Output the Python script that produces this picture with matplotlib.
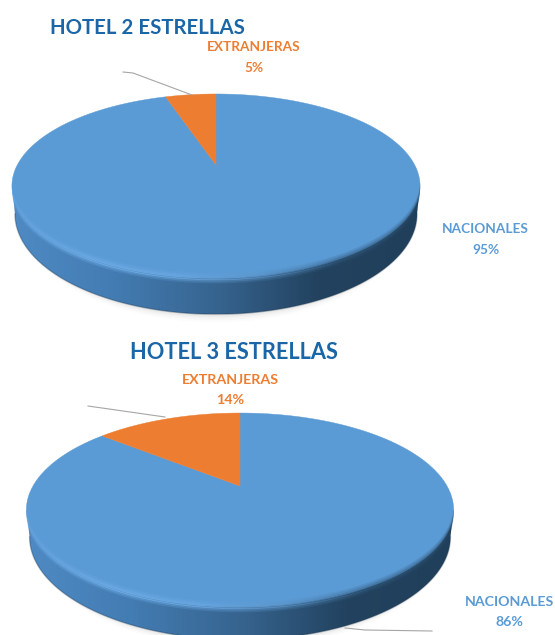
import numpy as np
import matplotlib
matplotlib.use("Agg")
import matplotlib.pyplot as plt
from matplotlib.colors import LinearSegmentedColormap
from matplotlib.patches import Polygon

plt.rcParams['font.family'] = ['Lato', 'DejaVu Sans']

categories = ["NACIONALES", "EXTRANJERAS"]
titles = ["HOTEL 2 ESTRELLAS", "HOTEL 3 ESTRELLAS"]
nacionales = [95, 86]
extranjeras = [5, 14]

BLUE = "#5b9bd5"
ORANGE = "#ed7d31"
TITLE_BLUE = "#1a66a6"

side_cmap = LinearSegmentedColormap.from_list(
    "side", ["#4f8ac4", "#437cb2", "#37648f", "#22425f", "#203f5a"])
rim_cmap = LinearSegmentedColormap.from_list(
    "rim", ["#6aa8e4", "#74b2ec", "#70aee8", "#5b94c8", "#2f5577", "#284b6a"])


def disc_xy(angle, cx, apex_y, a, b, k):
    # angle is measured clockwise from 12 o'clock; k tilts the disc away from the viewer
    u = np.sin(angle)
    v = np.cos(angle)
    w = 1 + k * v
    return cx + a * u / w, apex_y - b * v / w


def gradient_fill(ax, x0, x1, y0, y1, cmap, clip_xy, alpha=1.0, z=2):
    grad = np.linspace(0, 1, 256).reshape(1, -1)
    im = ax.imshow(grad, cmap=cmap, extent=(x0, x1, y1, y0), aspect="auto",
                   alpha=alpha, zorder=z)
    clip = Polygon(clip_xy, closed=True, transform=ax.transData, fc="none", ec="none")
    ax.add_patch(clip)
    im.set_clip_path(clip)


def draw_pie(ax, share_nac, share_ext, cx, apex_y, a, b, k, drop, base_scale):
    t = np.linspace(0, 2 * np.pi, 721)
    x, y = disc_xy(t, cx, apex_y, a, b, k)
    left, right = x.min(), x.max()
    mid_y = (y.min() + y.max()) / 2
    half_w = (right - left) / 2
    half_h = (y.max() - y.min()) / 2

    # base of the puck is a slightly narrower, deeper ellipse
    p = np.linspace(np.pi, 0, 361)
    base_x = cx + 0.985 * half_w * np.cos(p)
    base_y = mid_y + drop + base_scale * half_h * np.sin(p)

    # soft shadow under the base, it only shows below the wall
    for grow, alpha in [(8, 0.02), (6, 0.03), (4, 0.04), (2.5, 0.05), (1, 0.07)]:
        ex = cx + (0.985 * half_w + grow * 0.1) * np.cos(p)
        ey = mid_y + drop - 6 + (base_scale * half_h + grow + 6) * np.sin(p)
        ax.add_patch(Polygon(np.column_stack([ex, ey]), closed=True, fc="#6e6a66",
                             ec="none", alpha=alpha, zorder=1))

    # wall: from the disc's left extreme down round the base to its right extreme
    i_l, i_r = x.argmin(), x.argmax()
    wall = np.vstack([[x[i_l], y[i_l]], np.column_stack([base_x, base_y]), [x[i_r], y[i_r]]])
    gradient_fill(ax, left, right, y.min(), base_y.max(), side_cmap, wall)
    ax.plot(base_x, base_y, color="#1c3852", lw=1.0, alpha=0.35, zorder=2.5)

    # top face, the small share runs back from 12 o'clock
    total = share_nac + share_ext
    ext_angle = 2 * np.pi * share_ext / total
    nac_t = np.linspace(0, 2 * np.pi - ext_angle, 600)
    ext_t = np.linspace(2 * np.pi - ext_angle, 2 * np.pi, 120)
    for ts, color in [(nac_t, BLUE), (ext_t, ORANGE)]:
        sx, sy = disc_xy(ts, cx, apex_y, a, b, k)
        pts = np.vstack([[cx, apex_y], np.column_stack([sx, sy])])
        ax.add_patch(Polygon(pts, closed=True, fc=color, ec=color, lw=0.3, zorder=3))

    # soft bevel along the near rim, light on the left and dark on the right
    near_x, near_y = x[i_r:i_l + 1], y[i_r:i_l + 1]
    for off, alpha in [(-5, 0.15), (-3.5, 0.3), (-2, 0.5), (-0.5, 0.75), (1, 0.8), (2.5, 0.45), (4, 0.2)]:
        band = np.vstack([np.column_stack([near_x, near_y + off]),
                          np.column_stack([near_x[::-1], near_y[::-1] + off + 1.5])])
        gradient_fill(ax, left, right, y.min(), y.max() + 8, rim_cmap, band, alpha=alpha, z=3.5)


def draw_label(ax, name, value, x, y, color, size):
    ax.text(x, y, name, color=color, fontsize=size, fontweight="bold", ha="center",
            va="center", zorder=5)
    ax.text(x, y + 20.5, f"{value}%", color=color, fontsize=size, fontweight="bold",
            ha="center", va="center", zorder=5)


fig = plt.figure(figsize=(5.55, 6.35), dpi=100)
ax = fig.add_axes([0, 0, 1, 1])

draw_pie(ax, nacionales[0], extranjeras[0], 216, 165, 198.7, 87.2, 0.228, 28, 1.09)
draw_pie(ax, nacionales[1], extranjeras[1], 240, 486, 207, 91, 0.247, 27, 1.06)

ax.set_xlim(0, 555)
ax.set_ylim(635, 0)
ax.axis("off")

ax.text(147.5, 28.5, titles[0], color=TITLE_BLUE, fontsize=14.7, fontweight="bold",
        ha="center", va="center", zorder=5)
ax.text(234, 352.5, titles[1], color=TITLE_BLUE, fontsize=15.7, fontweight="bold",
        ha="center", va="center", zorder=5)

draw_label(ax, categories[1], extranjeras[0], 254, 47, ORANGE, 9.8)
draw_label(ax, categories[0], nacionales[0], 485.5, 229, BLUE, 9.8)
draw_label(ax, categories[1], extranjeras[1], 230.5, 380, ORANGE, 10.3)
draw_label(ax, categories[0], nacionales[1], 509, 602, BLUE, 10.2)

# leader lines
ax.plot([123, 133, 192], [72, 73, 95], color="#a6a6a6", lw=0.8, zorder=4)
ax.plot([88, 165], [406, 417], color="#a6a6a6", lw=0.8, zorder=4)
ax.plot([345, 365, 432], [628, 630, 631], color="#a6a6a6", lw=0.8, zorder=4)

fig.savefig("out.png", dpi=100)
